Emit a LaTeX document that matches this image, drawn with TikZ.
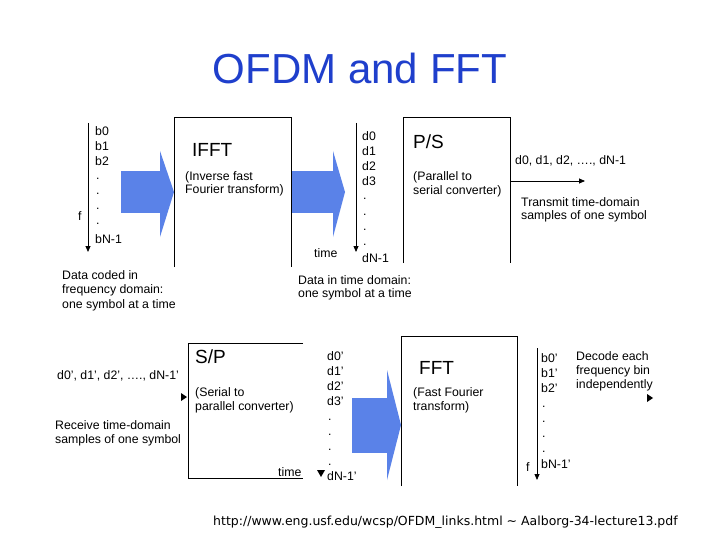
\documentclass[tikz,border=0pt]{standalone}
\usepackage{fontspec}
\usetikzlibrary{arrows.meta}
\setmainfont{Liberation Sans}
\newfontfamily\urlfont{DejaVu Sans}
\definecolor{ttl}{HTML}{1F3FCC}
\definecolor{barrow}{HTML}{5A82E8}
\begin{document}
\begin{tikzpicture}[x=1pt,y=-1pt,
  txt/.style={anchor=west,inner sep=0,font=\fontsize{12.3}{14}\selectfont},
  dot/.style={anchor=base west,inner sep=0,font=\fontsize{12.3}{14}\selectfont},
  big/.style={anchor=west,inner sep=0,font=\fontsize{19}{21}\selectfont},
  box/.style={draw=black,line width=0.8pt},
  tri/.style={-{Triangle[length=6pt,width=5pt]},line width=0.8pt},
  barr/.style={fill=barrow,draw=none}]
\useasboundingbox (0,0) rectangle (720,540);
\fill[white] (0,0) rectangle (720,540);
\node[font=\fontsize{42}{46}\selectfont,text=ttl] (title) at (360,68) {OFDM and FFT};
% top row
\coordinate (fa) at (88,123); \coordinate (fb) at (88,252);
\draw[tri] (fa) -- (fb);
\node[txt] (b0) at (95,131) {b0};
\node[txt] (b1) at (95,146) {b1};
\node[txt] (b2) at (95,161) {b2};
\foreach \y in {176,191,206,221} \node[dot] at (96,\y+4) {.};
\node[txt] (bN) at (95,239) {bN-1};
\node[txt] (f1) at (78,216) {f};
\fill[barr] (121,171) rectangle (161,213);
\fill[barr] (160,151) -- (174,192) -- (160,237) -- cycle;
\draw[box] (174,267) -- (174,117) -- (291,117) -- (291,267);
\node[big] (ifft) at (192,150) {IFFT};
\node[txt] at (185,177) {(Inverse fast};
\node[txt] at (185,190) {Fourier transform)};
\fill[barr] (292,171) rectangle (334,213);
\fill[barr] (333,151) -- (345,192) -- (333,237) -- cycle;
\coordinate (ta) at (356,123); \coordinate (tb) at (356,252);
\draw[tri] (ta) -- (tb);
\node[txt] at (314,253) {time};
\node[txt] at (362,136) {d0};
\node[txt] at (362,151) {d1};
\node[txt] at (362,166) {d2};
\node[txt] at (362,181) {d3};
\foreach \y in {196,211,226,241} \node[dot] at (363,\y+4) {.};
\node[txt] at (362,258) {dN-1};
\draw[box] (403,263) -- (403,117) -- (510,117) -- (510,263);
\node[big] (ps) at (413,142) {P/S};
\node[txt] at (413,177) {(Parallel to};
\node[txt] at (413,191) {serial converter)};
\coordinate (pa) at (510,181); \coordinate (pb) at (585,181);
\draw[tri] (pa) -- (pb);
\node[txt] at (515,161) {d0, d1, d2, …., dN-1};
\node[txt] at (521,202) {Transmit time-domain};
\node[txt] at (521,216) {samples of one symbol};
\node[txt] at (62,275) {Data coded in};
\node[txt] at (62,290) {frequency domain:};
\node[txt] at (62,305) {one symbol at a time};
\node[txt] at (298,280) {Data in time domain:};
\node[txt] at (298,294) {one symbol at a time};
% bottom row
\draw[box] (303,343) -- (188,343) -- (188,478) -- (303,478);
\node[big] at (195,357) {S/P};
\node[txt] at (195,393) {(Serial to};
\node[txt] at (195,407) {parallel converter)};
\node[txt] at (278,472) {time};
\fill (181,393) -- (187,397) -- (181,401) -- cycle;
\fill (317,470) -- (325,470) -- (321,477) -- cycle;
\node[txt] at (57,376) {d0’, d1’, d2’, …., dN-1’};
\node[txt] at (55,425) {Receive time-domain};
\node[txt] at (55,440) {samples of one symbol};
\node[txt] at (327,356) {d0’};
\node[txt] at (327,371) {d1’};
\node[txt] at (327,386) {d2’};
\node[txt] at (327,401) {d3’};
\foreach \y in {416,431,446,461} \node[dot] at (328,\y+4) {.};
\node[txt] at (327,476) {dN-1’};
\fill[barr] (352,398) rectangle (388,453);
\fill[barr] (387,370) -- (401,425) -- (387,480) -- cycle;
\draw[box] (401,486) -- (401,336) -- (517,336) -- (517,486);
\node[big] at (419,368) {FFT};
\node[txt] at (413,393) {(Fast Fourier};
\node[txt] at (413,407) {transform)};
\coordinate (ga) at (537,348); \coordinate (gb) at (537,480);
\draw[tri] (ga) -- (gb);
\node[txt] at (526,467) {f};
\node[txt] at (541,358) {b0’};
\node[txt] at (541,373) {b1’};
\node[txt] at (541,388) {b2’};
\foreach \y in {403,418,433,448} \node[dot] at (542,\y+4) {.};
\node[txt] at (541,464) {bN-1’};
\node[txt] at (576,356) {Decode each};
\node[txt] at (576,371) {frequency bin};
\node[txt] at (576,385) {independently};
\fill (647,394) -- (653,398) -- (647,402) -- cycle;
\node[anchor=west,inner sep=0,font=\urlfont\fontsize{12.5}{14}\selectfont] at (213,522) {http://www.eng.usf.edu/wcsp/OFDM\_links.html \textasciitilde{} Aalborg-34-lecture13.pdf};
\end{tikzpicture}
\end{document}
